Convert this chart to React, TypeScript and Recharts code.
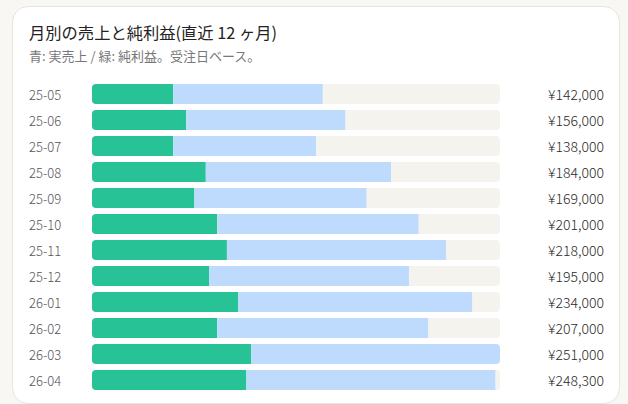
import { BarChart, Bar, XAxis, YAxis, LabelList, Rectangle } from 'recharts'

const months = ['25-05', '25-06', '25-07', '25-08', '25-09', '25-10', '25-11', '25-12', '26-01', '26-02', '26-03', '26-04']
const sales = [142000, 156000, 138000, 184000, 169000, 201000, 218000, 195000, 234000, 207000, 251000, 248300]
const profit = [50000, 58000, 50000, 70000, 63000, 77000, 83000, 72000, 90000, 77000, 98000, 95000]

const maxSales = Math.max(...sales)

// stacked: green profit, blue remainder of sales, beige remainder up to the max month
const data = months.map((month, i) => ({
  month,
  sales: sales[i],
  profit: profit[i],
  rest: sales[i] - profit[i],
  track: maxSales - sales[i],
}))

const FONT = '"Noto Sans CJK JP", "Noto Sans", sans-serif'

const yen = (v: number) => '¥' + v.toLocaleString('en-US')

function SalesShape(props: any) {
  const full = props.payload && props.payload.sales >= maxSales
  return <Rectangle {...props} radius={full ? [0, 4, 4, 0] : 0} />
}

function MonthTick({ y, payload }: any) {
  return (
    <text x={29} y={y} dominantBaseline="central" fontSize={13} fontWeight={300} fill="#555" fontFamily={FONT}>
      {payload.value}
    </text>
  )
}

// label hangs off the profit bar; the track end is found from its px-per-yen
function ValueLabel({ x, y, width, height, value, index }: any) {
  const end = x + (width * maxSales) / value
  return (
    <text
      x={end + 104}
      y={y + height / 2}
      textAnchor="end"
      dominantBaseline="central"
      fontSize={14}
      fontWeight={300}
      fill="#2a2a2a"
      fontFamily={FONT}
    >
      {yen(sales[index])}
    </text>
  )
}

export default function App() {
  return (
    <div style={{ position: 'fixed', inset: 0, background: '#f8f7f3', fontFamily: FONT }}>
      <div
        style={{
          position: 'absolute',
          left: 12,
          top: 6,
          width: 608,
          height: 398,
          boxSizing: 'border-box',
          background: '#fff',
          border: '1px solid #e6e5e1',
          borderRadius: 16,
        }}
      />
      <div style={{ position: 'absolute', left: 29, top: 22, fontSize: 16.3, fontWeight: 400, lineHeight: '20px', color: '#222' }}>
        月別の売上と純利益(直近 12 ヶ月)
      </div>
      <div style={{ position: 'absolute', left: 29, top: 47, fontSize: 13, fontWeight: 400, lineHeight: '18px', color: '#777' }}>
        青: 実売上 / 緑: 純利益。受注日ベース。
      </div>
      <div style={{ position: 'absolute', left: 0, top: 0 }}>
        <BarChart
          width={628}
          height={404}
          data={data}
          layout="vertical"
          margin={{ top: 81, right: 128, bottom: 11, left: 32 }}
          barCategoryGap={3}
        >
          <XAxis type="number" domain={[0, maxSales]} hide />
          <YAxis type="category" dataKey="month" width={60} axisLine={false} tickLine={false} tick={<MonthTick />} />
          <Bar dataKey="profit" stackId="a" fill="#27c396" radius={[4, 0, 0, 4]} isAnimationActive={false}>
            <LabelList dataKey="profit" content={<ValueLabel />} />
          </Bar>
          <Bar dataKey="rest" stackId="a" fill="#bedbfd" shape={<SalesShape />} isAnimationActive={false} />
          <Bar dataKey="track" stackId="a" fill="#f4f3ee" radius={[0, 4, 4, 0]} isAnimationActive={false} />
        </BarChart>
      </div>
    </div>
  )
}
